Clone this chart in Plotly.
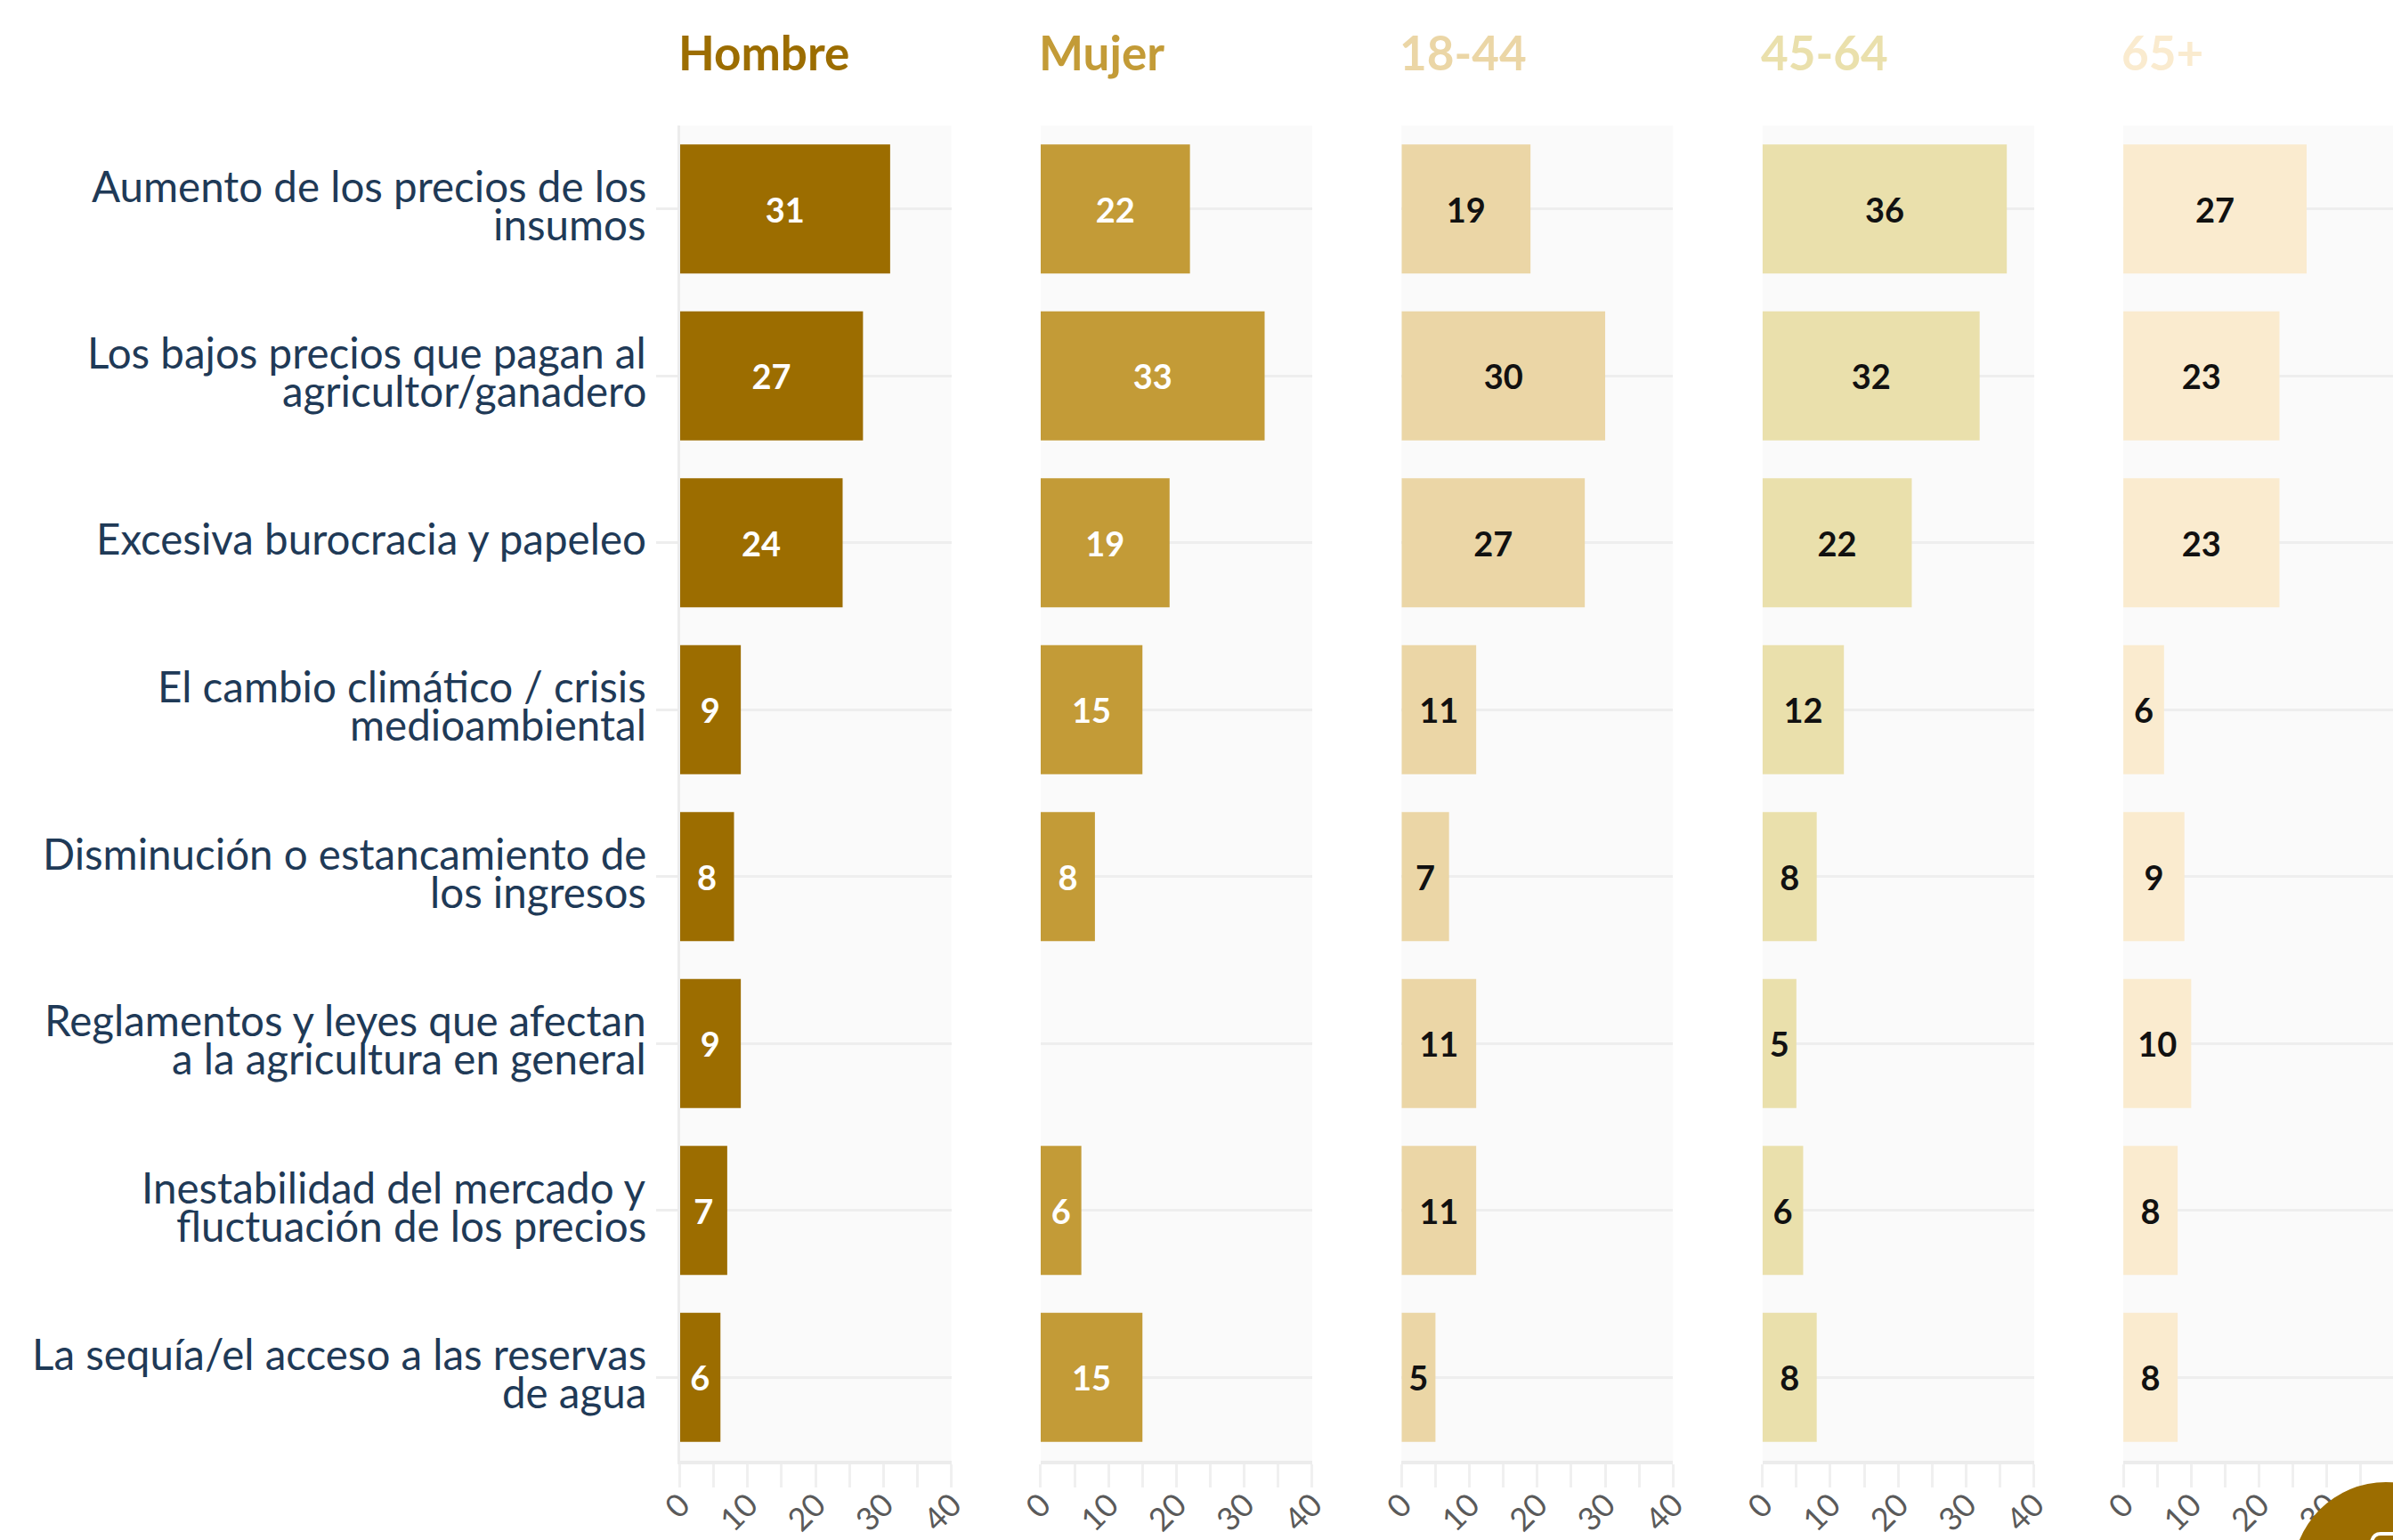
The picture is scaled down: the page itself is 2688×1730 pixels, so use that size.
import plotly.graph_objects as go

groups = ["Hombre", "Mujer", "18-44", "45-64", "65+"]
category_lines = [
    ["Aumento de los precios de los", "insumos"],
    ["Los bajos precios que pagan al", "agricultor/ganadero"],
    ["Excesiva burocracia y papeleo"],
    ["El cambio climático / crisis", "medioambiental"],
    ["Disminución o estancamiento de", "los ingresos"],
    ["Reglamentos y leyes que afectan", "a la agricultura en general"],
    ["Inestabilidad del mercado y", "fluctuación de los precios"],
    ["La sequía/el acceso a las reservas", "de agua"],
]
categories = [" ".join(c) for c in category_lines]
hombre = [31, 27, 24, 9, 8, 9, 7, 6]
mujer = [22, 33, 19, 15, 8, None, 6, 15]
edad_18_44 = [19, 30, 27, 11, 7, 11, 11, 5]
edad_45_64 = [36, 32, 22, 12, 8, 5, 6, 8]
edad_65 = [27, 23, 23, 6, 9, 10, 8, 8]
series = [hombre, mujer, edad_18_44, edad_45_64, edad_65]
bar_colors = ["#9C6D00", "#C39B37", "#EBD6A6", "#EAE0AC", "#FAEBCF"]
text_colors = ["#FFFFFF", "#FFFFFF", "#111111", "#111111", "#111111"]
title_colors = bar_colors
tick_values = [0, 10, 20, 30, 40]

W, H = 2688, 1730
X0, PW, STEP = 763.5, 305, 405.4
TOP, BOT = 141, 1641
FONT = "Lato"
INK = "#1F3A57"

fig = go.Figure()
layout = dict(
    width=W, height=H, margin=dict(l=0, r=0, t=0, b=0, autoexpand=False),
    paper_bgcolor="#FFFFFF", plot_bgcolor="#FFFFFF", showlegend=False,
    font=dict(family=FONT), bargap=0.227,
)
annots = []
for i, (g, vals) in enumerate(zip(groups, series)):
    n = "" if i == 0 else str(i + 1)
    left = X0 + i * STEP
    dom = [left / W, min((left + PW) / W, 1.0)]
    fig.add_trace(go.Bar(
        y=categories, x=vals, orientation="h", xaxis=f"x{n}", yaxis=f"y{n}",
        marker=dict(color=bar_colors[i], line=dict(width=0)),
        text=vals, textposition="inside", insidetextanchor="middle", textangle=0,
        constraintext="none", cliponaxis=False,
        textfont=dict(family=FONT, size=38, color=text_colors[i], weight=700),
        hoverinfo="skip",
    ))
    layout[f"xaxis{n}"] = dict(
        domain=dom, range=[0, 40 if i < 4 else (W - left) / PW * 40], anchor=f"y{n}",
        tickmode="array", tickvals=tick_values, ticktext=[str(t) for t in tick_values],
        tickangle=-45, ticks="outside", ticklen=26, tickwidth=3, tickcolor="#F0F0F0",
        tickfont=dict(family=FONT, size=36, color="#5A5A5A"),
        minor=dict(dtick=5, tick0=0, ticks="outside", ticklen=26, tickwidth=3, tickcolor="#F0F0F0", showgrid=False),
        showgrid=False, zeroline=False, showline=True, linecolor="#ECECEC", linewidth=4,
        ticklabelshift=1,
        ticklabelstandoff=-16,
        fixedrange=True,
    )
    layout[f"yaxis{n}"] = dict(
        domain=[1 - BOT / H, 1 - TOP / H], anchor=f"x{n}", autorange="reversed",
        categoryorder="array", categoryarray=categories,
        showticklabels=False, showgrid=True, gridcolor="#EEEEEE", gridwidth=3,
        ticks="outside" if i == 0 else "", ticklen=24, tickwidth=3, tickcolor="#EEEEEE",
        zeroline=False, showline=(i == 0), linecolor="#ECECEC", linewidth=3,
        fixedrange=True,
    )
    annots.append(dict(
        text=f"<b>{g}</b>", xref="paper", yref="paper", x=(left - 4) / W, y=1 - 58.5 / H,
        xanchor="left", yanchor="middle", showarrow=False,
        font=dict(family=FONT, size=53, color=title_colors[i]),
    ))

# Two-line category labels with the source's tight leading
LEAD = 43
for cat, lines in zip(categories, category_lines):
    for k, line in enumerate(lines):
        shift = (len(lines) - 1) * LEAD / 2 - k * LEAD + 5
        annots.append(dict(
            text=line, xref="paper", yref="y", x=727.5 / W, y=cat,
            xanchor="right", yanchor="middle", yshift=shift, showarrow=False,
            font=dict(family=FONT, size=47.5, color=INK),
        ))

layout["annotations"] = annots
layout["shapes"] = [
    dict(type="rect", xref=f"x{'' if i == 0 else i + 1} domain", yref=f"y{'' if i == 0 else i + 1} domain",
         x0=0, x1=1, y0=0, y1=1, fillcolor="#FAFAFA", line_width=0, layer="below")
    for i in range(5)
] + [
    dict(type="circle", xref="paper", yref="paper",
         x0=(2680 - 105) / W, x1=(2680 + 105) / W, y0=1 - (1770 + 105) / H, y1=1 - (1770 - 105) / H,
         fillcolor="#9C6D00", line_width=0, layer="above"),
    dict(type="path", xref="paper", yref="paper",
         path=f"M {2664 / W} {1 - 1732 / H} Q {2666 / W} {1 - 1723 / H} {2674 / W} {1 - 1723 / H} L {2688 / W} {1 - 1723 / H}",
         line=dict(color="#FFFFFF", width=4), layer="above"),
]
fig.update_layout(**layout)
fig.write_html(
    "out.html", config={"displayModeBar": False},
    post_script="document.body.style.margin='0';document.documentElement.style.overflow='hidden';",
)
